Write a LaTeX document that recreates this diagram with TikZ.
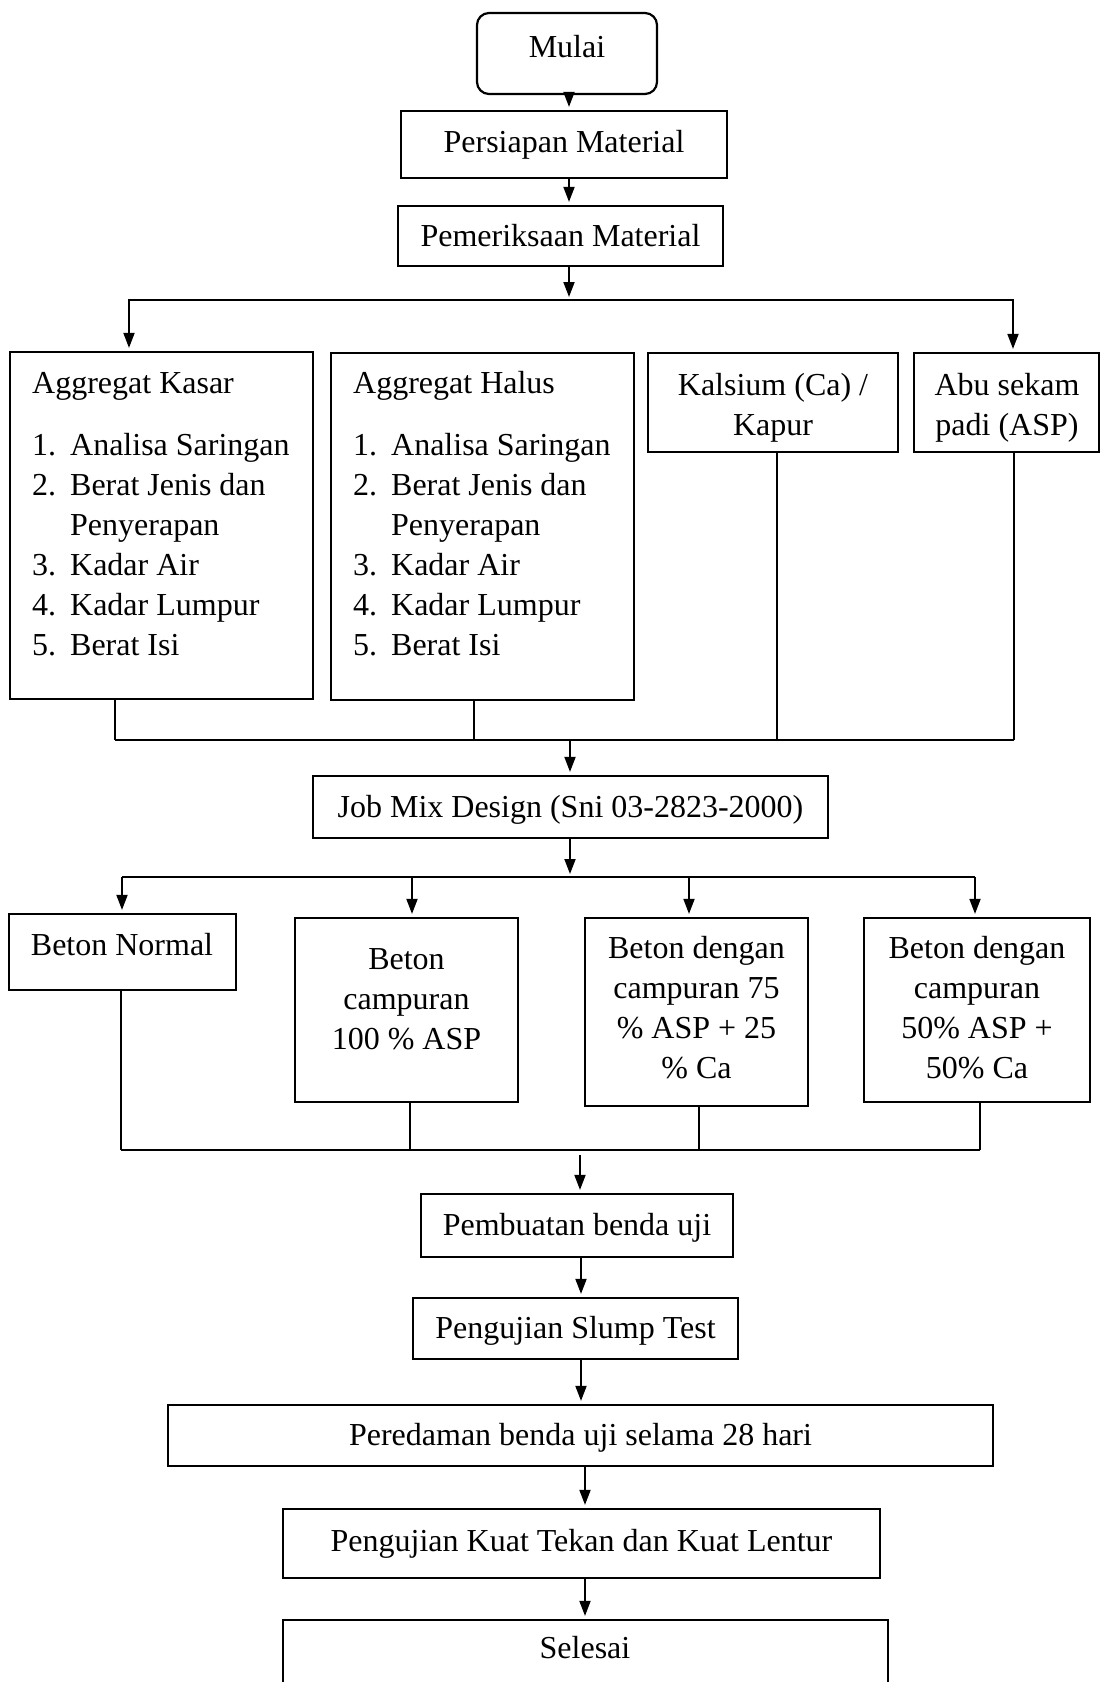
\documentclass[tikz,border=0pt]{standalone}
\usepackage{fontspec}
\setmainfont{Liberation Serif}
\usetikzlibrary{arrows.meta}
\newcommand{\mlines}[1]{\begin{tabular}[t]{@{}c@{}}#1\end{tabular}}
\newcommand{\alist}[1]{\begin{tabular}[t]{@{}p{38pt}@{}l@{}}#1\end{tabular}}
\begin{document}
\begin{tikzpicture}[x=1pt,y=-1pt,
  box/.style={draw, line width=2.2pt, inner sep=0pt, align=center, font=\fontsize{32}{40}\selectfont},
  lowtext/.style={text depth=2pt},
  txt/.style={inner sep=0pt, font=\fontsize{32}{40}\selectfont},
  arr/.style={line width=1.8pt, -{Triangle[length=15pt,width=11pt]}, shorten >=3pt},
  ln/.style={line width=1.8pt},
  thinln/.style={line width=1.3pt}]
\useasboundingbox[fill=white] (0,0) rectangle (1102,1682);

% top
\node[box, rounded corners=12pt, minimum width=180pt, minimum height=81pt] (mulai) at (567,53.5) {};
\node[txt, anchor=base] (tmulai) at (567,57) {Mulai};
\node[box, minimum width=326pt, minimum height=67pt] (persiapan) at (564,144.5) {Persiapan Material};
\node[box, minimum width=325pt, minimum height=60pt] (pemeriksaan) at (560.5,236) {Pemeriksaan Material};

\coordinate (sp1) at (569,0);
\draw[arr] (sp1 |- mulai.south) -- (sp1 |- persiapan.north);
\draw[arr] (sp1 |- persiapan.south) -- (sp1 |- pemeriksaan.north);

% materials
\node[box, minimum width=303pt, minimum height=347pt] (kasar) at (161.5,525.5) {};
\node[txt, anchor=base west] (tkasar) at (32,393) {Aggregat Kasar};
\node[txt, anchor=base west] (lkasar) at (32,455) {\alist{1. & Analisa Saringan\\ 2. & Berat Jenis dan\\ & Penyerapan\\ 3. & Kadar Air\\ 4. & Kadar Lumpur\\ 5. & Berat Isi}};

\node[box, minimum width=303pt, minimum height=347pt] (halus) at (482.5,526.5) {};
\node[txt, anchor=base west] (thalus) at (353,393) {Aggregat Halus};
\node[txt, anchor=base west] (lhalus) at (353,455) {\alist{1. & Analisa Saringan\\ 2. & Berat Jenis dan\\ & Penyerapan\\ 3. & Kadar Air\\ 4. & Kadar Lumpur\\ 5. & Berat Isi}};

\node[box, minimum width=250pt, minimum height=99pt] (kalsium) at (773,402.5) {};
\node[txt, anchor=base] (tkalsium) at (773,395) {\mlines{Kalsium (Ca) /\\Kapur}};
\node[box, minimum width=185pt, minimum height=99pt] (abu) at (1006.5,402.5) {};
\node[txt, anchor=base] (tabu) at (1007,395) {\mlines{Abu sekam\\padi (ASP)}};

\coordinate (b1) at (569,300);
\coordinate (bl) at (129,300);
\coordinate (br) at (1013,300);
\draw[arr] (sp1 |- pemeriksaan.south) -- (b1);
\draw[arr] (b1) -| (bl |- kasar.north);
\draw[arr] (b1) -| (br |- abu.north);

% merge 1
\coordinate (m1) at (115,740);
\coordinate (m2) at (474,740);
\coordinate (m3) at (777,740);
\coordinate (m4) at (1014,740);
\coordinate (mj) at (570,740);
\draw[thinln] (m1 |- kasar.south) -- (m1);
\draw[thinln] (m2 |- halus.south) -- (m2);
\draw[thinln] (m3 |- kalsium.south) -- (m3);
\draw[thinln] (m4 |- abu.south) -- (m4);
\draw[ln] (m1) -- (m4);

\node[box, lowtext, minimum width=515pt, minimum height=62pt] (jobmix) at (570.5,807) {Job Mix Design (Sni 03-2823-2000)};
\draw[arr] (mj) -- (mj |- jobmix.north);

% branch 2
\coordinate (c0) at (570,877);
\coordinate (d1) at (122,877);
\coordinate (d2) at (412,877);
\coordinate (d3) at (689,877);
\coordinate (d4) at (975,877);

\node[box, minimum width=227pt, minimum height=76pt] (bn) at (122.5,952) {};
\node[txt, anchor=base] (tbn) at (122,955) {Beton Normal};
\node[box, minimum width=223pt, minimum height=184pt] (b100) at (406.5,1010) {};
\node[txt, anchor=base] (tb100) at (406.5,969) {\mlines{Beton\\campuran\\100 \% ASP}};
\node[box, minimum width=223pt, minimum height=188pt] (b75) at (696.5,1012) {};
\node[txt, anchor=base] (tb75) at (696.5,958) {\mlines{Beton dengan\\campuran 75\\\% ASP + 25\\\% Ca}};
\node[box, minimum width=226pt, minimum height=184pt] (b50) at (977,1010) {};
\node[txt, anchor=base] (tb50) at (977,958) {\mlines{Beton dengan\\campuran\\50\% ASP +\\50\% Ca}};

\draw[arr] (c0 |- jobmix.south) -- (c0);
\draw[ln] (d1) -- (d4);
\draw[arr] (d1) -- (d1 |- bn.north);
\draw[arr] (d2) -- (d2 |- b100.north);
\draw[arr] (d3) -- (d3 |- b75.north);
\draw[arr] (d4) -- (d4 |- b50.north);

% merge 2
\coordinate (e1) at (121,1150);
\coordinate (e2) at (410,1150);
\coordinate (e3) at (699,1150);
\coordinate (e4) at (980,1150);
\draw[thinln] (e1 |- bn.south) -- (e1);
\draw[thinln] (e2 |- b100.south) -- (e2);
\draw[thinln] (e3 |- b75.south) -- (e3);
\draw[thinln] (e4 |- b50.south) -- (e4);
\draw[ln] (e1) -- (e4);

% bottom chain
\node[box, lowtext, minimum width=312pt, minimum height=63pt] (pembuatan) at (577,1225.5) {Pembuatan benda uji};
\node[box, lowtext, minimum width=325pt, minimum height=61pt] (slump) at (575.5,1328.5) {Pengujian Slump Test};
\node[box, lowtext, minimum width=825pt, minimum height=61pt] (peredaman) at (580.5,1435.5) {Peredaman benda uji selama 28 hari};
\node[box, minimum width=597pt, minimum height=69pt] (kuat) at (581.5,1543.5) {Pengujian Kuat Tekan dan Kuat Lentur};
\node[box, minimum width=605pt, minimum height=100pt] (selesai) at (585.5,1670) {};
\node[txt, anchor=base] (tselesai) at (585,1658) {Selesai};

\coordinate (f0) at (580,1155);
\coordinate (g0) at (581,0);
\coordinate (h0) at (585,0);
\draw[arr] (f0) -- (f0 |- pembuatan.north);
\draw[arr] (g0 |- pembuatan.south) -- (g0 |- slump.north);
\draw[arr] (g0 |- slump.south) -- (g0 |- peredaman.north);
\draw[arr] (h0 |- peredaman.south) -- (h0 |- kuat.north);
\draw[arr] (h0 |- kuat.south) -- (h0 |- selesai.north);
\end{tikzpicture}
\end{document}
